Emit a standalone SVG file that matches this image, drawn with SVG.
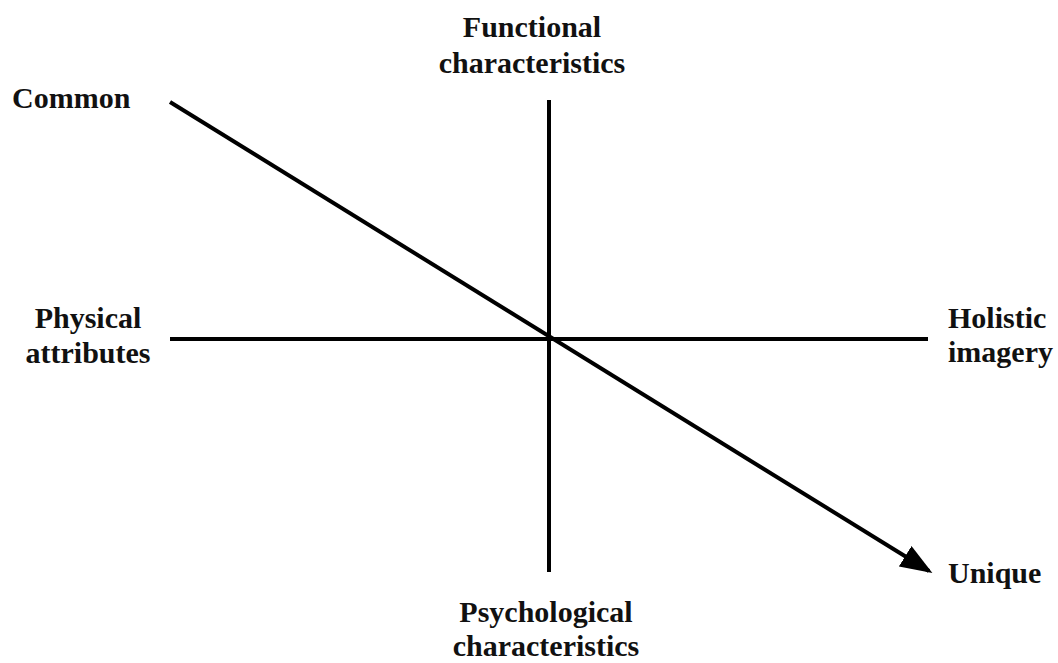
<svg xmlns="http://www.w3.org/2000/svg" width="1058" height="663" viewBox="0 0 1058 663">
<style>
text{font-family:"Liberation Serif","Times New Roman",serif;font-size:30px;font-weight:bold;fill:#111}
.ax{stroke:#000;stroke-width:4;fill:none}
</style>
<defs>
<marker id="ah" markerWidth="8" markerHeight="6" refX="7" refY="3" orient="auto" markerUnits="strokeWidth">
<path d="M0,0 L8,3 L0,6 Z" fill="#000"/>
</marker>
</defs>
<rect width="1058" height="663" fill="#fff"/>
<g id="connectors">
<line class="ax" x1="549" y1="100" x2="549" y2="572"/>
<line class="ax" x1="170" y1="339" x2="928" y2="339"/>
<line class="ax" x1="170" y1="102" x2="929" y2="571" marker-end="url(#ah)"/>
</g>
<g id="functional"><text x="532" y="37" text-anchor="middle">Functional</text><text x="532" y="73" text-anchor="middle">characteristics</text></g>
<g id="common"><text x="12" y="108">Common</text></g>
<g id="physical"><text x="88" y="328" text-anchor="middle">Physical</text><text x="88" y="363" text-anchor="middle">attributes</text></g>
<g id="holistic"><text x="948" y="328">Holistic</text><text x="948" y="362">imagery</text></g>
<g id="unique"><text x="948" y="583">Unique</text></g>
<g id="psychological"><text x="546" y="622" text-anchor="middle">Psychological</text><text x="546" y="656" text-anchor="middle">characteristics</text></g>
</svg>
